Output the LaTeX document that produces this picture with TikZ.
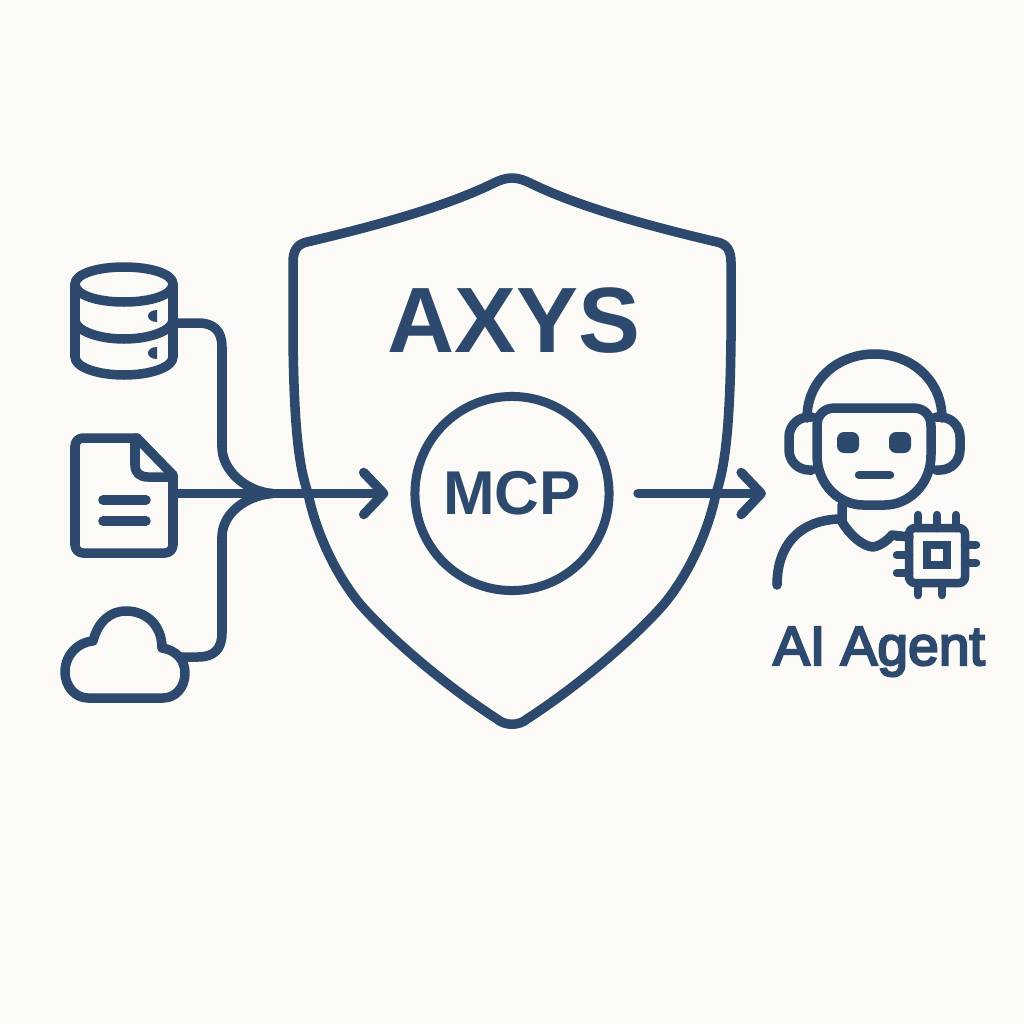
\documentclass[tikz,border=0pt]{standalone}
\usepackage{fontspec}
\setmainfont{Liberation Sans}
\newfontfamily\agentfont[FakeBold=4]{Liberation Sans}
\usetikzlibrary{arrows.meta}
\definecolor{navy}{HTML}{2D4A6E}
\definecolor{paper}{HTML}{FCFAF6}

\begin{document}
\begin{tikzpicture}[x=0.01cm, y=-0.01cm]
    \tikzstyle{icon} = [draw=navy, line width=0.095cm, line join=round, line cap=round]
    \tikzstyle{thin icon} = [icon, line width=0.085cm]
    \tikzstyle{anchorbox} = [rectangle, draw=none, inner sep=0pt, outer sep=0pt]
    \tikzstyle{link} = [icon]
    \tikzstyle{arrow} = [icon, -{Straight Barb[length=0.2cm, width=0.42cm, round]}]
    \tikzstyle{hub} = [circle, draw=navy, line width=0.09cm, minimum size=1.94cm, inner sep=0pt, outer sep=0pt, text=navy, font=\fontsize{17.6pt}{20pt}\bfseries]

    \fill[paper] (0,0) rectangle (1024,1024);

    \node (db) [anchorbox, minimum width=0.98cm, minimum height=1.08cm] at (124,323) {};
    \node (doc) [anchorbox, minimum width=0.98cm, minimum height=1.15cm] at (124,493.5) {};
    \node (cloud) [anchorbox, minimum width=1.10cm, minimum height=0.90cm] at (125,657) {};
    \coordinate (merge) at (272,493.5);
    \node (mcp) [hub] at (512,493.5) {MCP};
    \node (brand) [anchor=base, text=navy, inner sep=0pt, font=\fontsize{26.4pt}{28pt}\bfseries] at (514,352) {AXYS};
    \node (agent) [anchorbox, minimum width=2.14cm, minimum height=2.4cm] at (873,493.5) {};
    \node (agentlabel) [anchor=base, text=navy, inner sep=0pt, font=\fontsize{15.7pt}{18pt}\agentfont] at (879,665) {AI Agent};

    % shield
    \draw[icon] (512,178) .. controls (506,178) and (500,180) .. (494,183)
        .. controls (445,207) and (375,226) .. (307,242)
        .. controls (297,244) and (293,251) .. (293,262) -- (293,340)
        .. controls (294,420) and (298,465) .. (308,493)
        .. controls (314,525) and (332,570) .. (360,604)
        .. controls (385,633) and (440,682) .. (497,719)
        .. controls (505,726) and (519,726) .. (527,719)
        .. controls (584,682) and (639,633) .. (664,604)
        .. controls (692,570) and (710,525) .. (716,493)
        .. controls (726,465) and (730,420) .. (731,340) -- (731,262)
        .. controls (731,251) and (727,244) .. (717,242)
        .. controls (649,226) and (579,207) .. (530,183)
        .. controls (524,180) and (518,178) .. (512,178) -- cycle;

    % database
    \draw[icon] (75,284) .. controls (75,274) and (97,267) .. (124,267) .. controls (151,267) and (173,274) .. (173,284)
        .. controls (173,295) and (151,302) .. (124,302) .. controls (97,302) and (75,295) .. (75,284) -- cycle;
    \draw[icon] (75,284) -- (75,357) .. controls (75,367) and (97,375) .. (124,375) .. controls (151,375) and (173,367) .. (173,357) -- (173,284);
    \draw[icon] (75,320) .. controls (75,330) and (97,339) .. (124,339) .. controls (151,339) and (173,330) .. (173,320);
    \fill[navy] (157,310) .. controls (151,310) and (148,313) .. (148,316) .. controls (148,319) and (151,322) .. (157,322) -- cycle;
    \fill[navy] (157,347) .. controls (151,347) and (148,350) .. (148,353) .. controls (148,356) and (151,359) .. (157,359) -- cycle;

    % document
    \draw[icon, rounded corners=0.08cm] (137,438) -- (75,438) -- (75,553) -- (173,553) -- (173,475);
    \draw[icon] (137,438) -- (173,475);
    \draw[icon] (135,438) -- (135,465) .. controls (135,473) and (140,477) .. (148,477) -- (173,477);
    \draw[icon] (103,500) -- (146,500);
    \draw[icon] (103,521) -- (146,521);

    % cloud
    \draw[icon] (93,641) .. controls (98,622) and (110,611) .. (126,611) .. controls (146,611) and (162,625) .. (162,648)
        .. controls (176,650) and (185,660) .. (185,673) .. controls (185,688) and (175,698) .. (163,698) -- (88,698)
        .. controls (75,698) and (65,686) .. (65,672) .. controls (65,655) and (78,642) .. (93,641) -- cycle;

    % connectors
    \draw[link] (db.east) -- (198,323) .. controls (214,323) and (222,331) .. (222,347) -- (222,447) .. controls (222,470) and (245,491) .. (merge);
    \draw[link] (cloud.east) -- (198,657) .. controls (214,657) and (222,649) .. (222,633) -- (222,537) .. controls (222,514) and (245,496) .. (merge);
    \draw[arrow, shorten >=0.265cm] (doc.east) -- (mcp.west);
    \draw[arrow, shorten <=0.29cm] (mcp.east) -- (agent.west);

    % agent head
    \draw[icon] (807,418) .. controls (807,381) and (837,354) .. (874.5,354) .. controls (912,354) and (942,381) .. (942,418);
    \draw[icon, rounded corners=0.2cm] (812,417) -- (789,417) -- (789,470) -- (812,470);
    \draw[icon, rounded corners=0.2cm] (936,417) -- (960,417) -- (960,470) -- (936,470);
    \draw[icon] (835,408) -- (913,408) .. controls (924,408) and (931,415) .. (931,426) -- (931,455)
        .. controls (931,485) and (908,505) .. (885,505) -- (863,505)
        .. controls (840,505) and (817,485) .. (817,455) -- (817,426)
        .. controls (817,415) and (824,408) .. (835,408) -- cycle;
    \fill[navy, rounded corners=0.07cm] (837,432) rectangle (859,453);
    \fill[navy, rounded corners=0.07cm] (889,432) rectangle (911,453);
    \draw[thin icon] (859,475) -- (890,475);

    % agent body
    \draw[icon] (842,519) .. controls (800,519) and (777,545) .. (777,585);
    \draw[icon] (842,505) -- (842,522) .. controls (850,535) and (862,546) .. (873,547) .. controls (880,546) and (888,540) .. (892,535) -- (909,537);

    % chip
    \draw[thin icon, rounded corners=0.06cm] (909,528) rectangle (965,583);
    \draw[thin icon, line join=miter] (927,545) rectangle (947,565);
    \foreach \px in {918,937,956} {
        \draw[thin icon] (\px,515) -- (\px,528);
    }
    \foreach \px in {918,942} {
        \draw[thin icon] (\px,583) -- (\px,595);
    }
    \foreach \py in {537,555,573} {
        \draw[thin icon] (897,\py) -- (909,\py);
    }
    \foreach \py in {545,563} {
        \draw[thin icon] (965,\py) -- (976,\py);
    }
\end{tikzpicture}
\end{document}
